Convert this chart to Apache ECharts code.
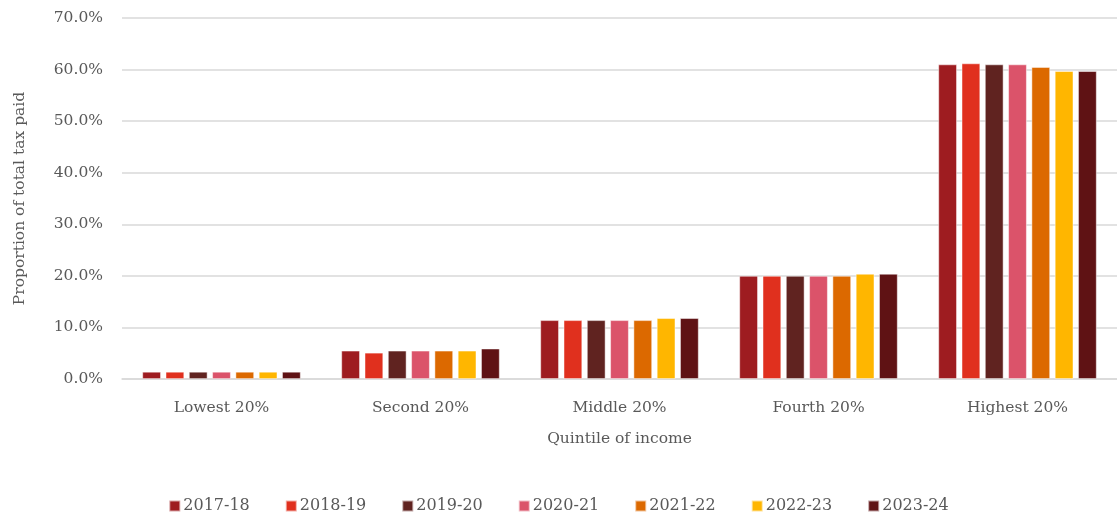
<!DOCTYPE html>
<html><head><meta charset="utf-8">
<script src="https://cdn.jsdelivr.net/npm/echarts@6/dist/echarts.min.js"></script>
<style>html,body{margin:0;padding:0;background:#fff}#c{width:1117px;height:517px}</style>
</head><body><div id="c"></div>
<script>
const categories = ['Lowest 20%', 'Second 20%', 'Middle 20%', 'Fourth 20%', 'Highest 20%'];
const years = ['2017-18', '2018-19', '2019-20', '2020-21', '2021-22', '2022-23', '2023-24'];
const colors = ['#9e1c20', '#e0301e', '#602320', '#db536a', '#dc6900', '#ffb600', '#5f1214'];
const v2017 = [1.4, 5.5, 11.4, 20.0, 61.0];
const v2018 = [1.4, 5.1, 11.4, 20.0, 61.2];
const v2019 = [1.4, 5.5, 11.4, 20.0, 61.0];
const v2020 = [1.4, 5.5, 11.4, 20.0, 61.0];
const v2021 = [1.4, 5.5, 11.4, 20.0, 60.5];
const v2022 = [1.4, 5.5, 11.8, 20.4, 59.7];
const v2023 = [1.4, 5.9, 11.8, 20.4, 59.7];
const yTicks = [0, 10, 20, 30, 40, 50, 60, 70];
const seriesValues = [v2017, v2018, v2019, v2020, v2021, v2022, v2023];

const font = 'Georgia, "DejaVu Serif", serif';
const fs = 15.5;
const chart = echarts.init(document.getElementById('c'));
chart.setOption({
  animation: false,
  color: colors,
  grid: {left: 122, right: -4, top: 18, bottom: 138, containLabel: false},
  legend: {
    bottom: -2, left: 'center', itemWidth: 11, itemHeight: 11, itemGap: 35,
    icon: 'rect',
    textStyle: {fontFamily: font, fontSize: 16, color: '#595959', padding: [0, 0, 0, -2]},
    data: years
  },
  xAxis: {
    type: 'category', data: categories,
    name: 'Quintile of income', nameLocation: 'middle', nameGap: 52,
    nameTextStyle: {fontFamily: font, fontSize: fs, color: '#595959'},
    axisLine: {lineStyle: {color: '#d9d9d9', width: 1.5}},
    axisTick: {show: false},
    axisLabel: {fontFamily: font, fontSize: fs, color: '#595959', margin: 21}
  },
  yAxis: {
    type: 'value', min: yTicks[0], max: yTicks[yTicks.length - 1], interval: 10,
    name: 'Proportion of total tax paid', nameLocation: 'middle', nameGap: 94,
    nameTextStyle: {fontFamily: font, fontSize: fs, color: '#595959'},
    axisLine: {show: false}, axisTick: {show: false},
    splitLine: {lineStyle: {color: '#d9d9d9', width: 1.5}},
    axisLabel: {fontFamily: font, fontSize: fs, color: '#595959', margin: 19,
      formatter: v => v.toFixed(1) + '%'}
  },
  series: years.map((y, i) => ({
    name: y, type: 'bar', data: seriesValues[i],
    barGap: '25%', barCategoryGap: '20.4%',
    itemStyle: {color: colors[i], borderColor: 'rgba(255,255,255,0.6)', borderWidth: 0.8}
  }))
});
</script></body></html>
